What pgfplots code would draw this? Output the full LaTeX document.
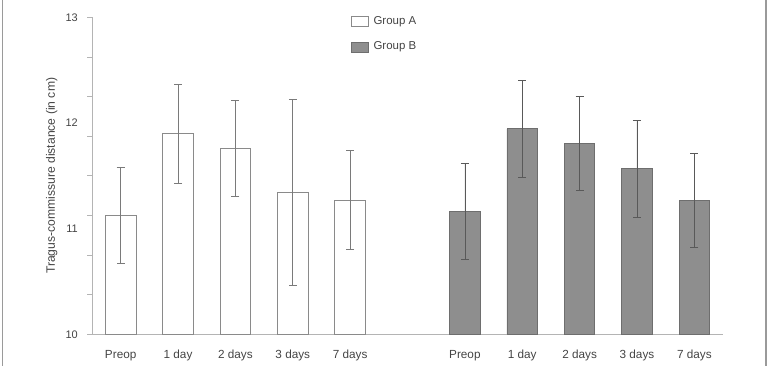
\documentclass[border=0pt]{standalone}
\usepackage{fontspec}
\setmainfont{Liberation Sans}
\usepackage{pgfplots}
\pgfplotsset{compat=1.18}
\usepackage{pgfplotstable}
\definecolor{axisgray}{HTML}{B4B4B4}
\definecolor{edgeA}{HTML}{8A8A8A}
\definecolor{fillB}{HTML}{8E8E8E}
\definecolor{edgeB}{HTML}{6E6E6E}
\definecolor{errgray}{HTML}{7A7A7A}
\definecolor{framegray}{HTML}{9A9A9A}
\definecolor{textgray}{HTML}{444444}
\pgfplotstableread{
x y err
0 11.125 0.455
1 11.898 0.470
2 11.756 0.455
3 11.343 0.880
4 11.270 0.470
}\groupA
\pgfplotstableread{
x y err
6 11.164 0.455
7 11.945 0.455
8 11.803 0.445
9 11.567 0.460
10 11.268 0.447
}\groupB
\begin{document}
\begin{tikzpicture}
\useasboundingbox (0,0) rectangle (773bp,366bp);
\begin{axis}[
  at={(92bp,31.7bp)}, anchor=south west,
  scale only axis, width=631bp, height=317bp,
  xmin=-0.5, xmax=10.5, ymin=10, ymax=13,
  axis x line*=bottom, axis y line*=left,
  axis line style={draw=axisgray, line width=0.8bp, -},
  xtick={0,1,2,3,4,6,7,8,9,10},
  xticklabels={Preop,1 day,2 days,3 days,7 days,Preop,1 day,2 days,3 days,7 days},
  xtick style={draw=none},
  xticklabel style={font=\fontsize{11.8}{13}\selectfont, color=textgray, inner sep=0pt, text height=8.3bp, text depth=2.5bp, anchor=north, yshift=-10.5bp},
  ytick={10,10.375,10.75,11.125,11.5,11.875,12.25,12.625,13},
  yticklabels={},
  tick align=outside, major tick length=5bp,
  ytick style={draw=axisgray, line width=0.8bp},
  extra y ticks={10,11,12,13},
  extra y tick labels={10,11,12,13},
  extra y tick style={major tick length=0pt, yticklabel style={font=\fontsize{11}{13}\selectfont, color=textgray, inner sep=0pt, anchor=east, xshift=-14bp}},
  /pgf/number format/assume math mode=true,
  ylabel={Tragus-commissure distance (in cm)},
  ylabel style={font=\fontsize{12.2}{13}\selectfont, color=textgray, at={(axis description cs:-0.0639,0.5)}, anchor=center, rotate=0},
  ybar, bar width=30.5bp, bar shift=0pt,
  legend style={at={(axis description cs:0.4105,1.005)}, anchor=north west, draw=none, fill=none, inner sep=0pt, row sep=15bp, column sep=4.5bp,
    nodes={inner sep=0pt, text height=8bp, text depth=2.5bp, font=\fontsize{11.5}{13}\selectfont, text=textgray}},
  legend cell align=left,
  legend image code/.code={\draw[#1] (0bp,-5bp) rectangle (17bp,5bp);},
]
\addplot[draw=edgeA, fill=white, line width=0.8bp,
  error bars/.cd, y dir=both, y explicit,
  error bar style={draw=errgray, line width=0.7bp},
  error mark options={rotate=90, mark size=4bp, draw=errgray, line width=0.7bp}]
  table[x=x, y=y, y error=err] {\groupA};
\addlegendentry{Group A}
\addplot[draw=edgeB, fill=fillB, line width=0.8bp,
  error bars/.cd, y dir=both, y explicit,
  error bar style={draw=black!65, line width=0.7bp},
  error mark options={rotate=90, mark size=4bp, draw=black!65, line width=0.7bp}]
  table[x=x, y=y, y error=err] {\groupB};
\addlegendentry{Group B}
\end{axis}
\draw[framegray, line width=1.5bp] (2.5bp,0) -- (2.5bp,366bp);
\draw[framegray, line width=1.5bp] (766bp,0) -- (766bp,366bp);
\end{tikzpicture}
\end{document}
